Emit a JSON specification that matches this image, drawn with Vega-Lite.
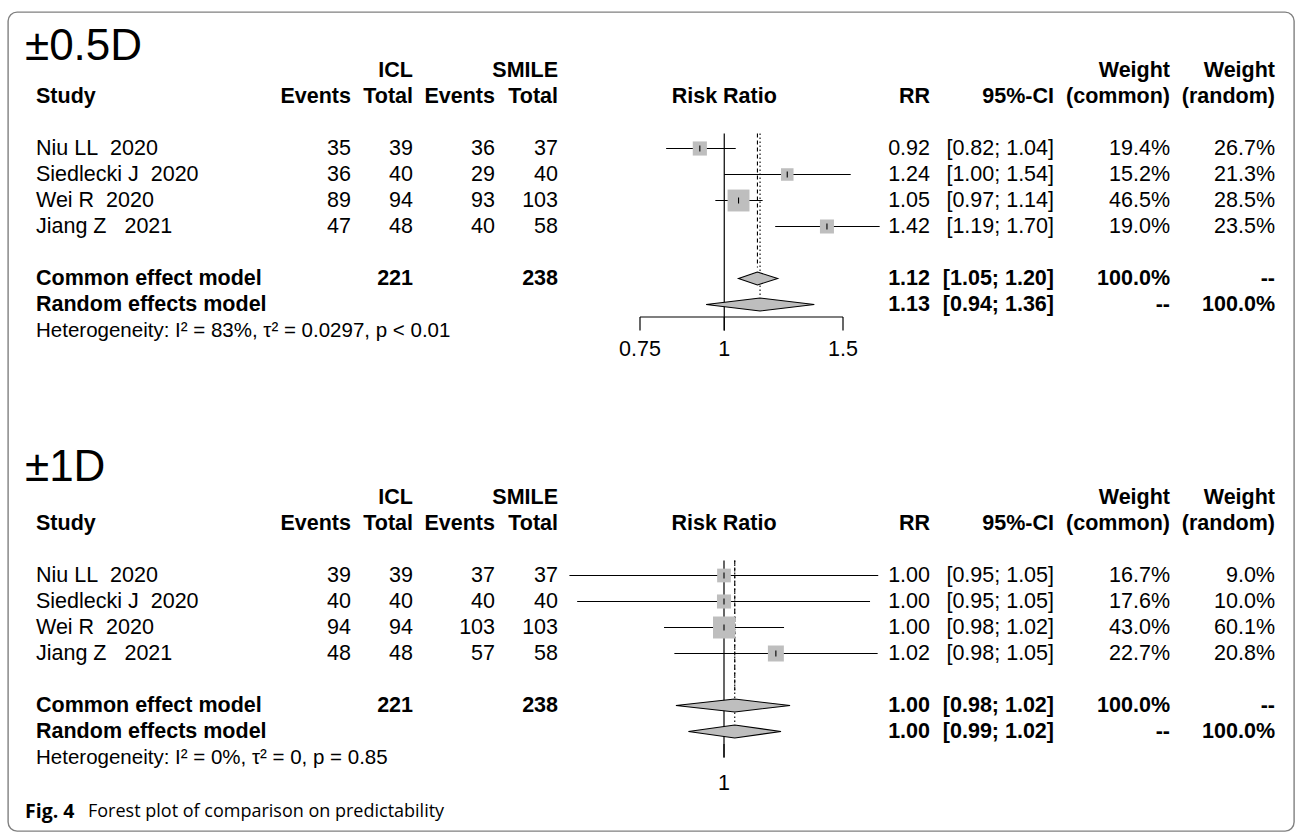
{
  "$schema": "https://vega.github.io/schema/vega-lite/v6.json",
  "width": 1286,
  "height": 819,
  "autosize": {"type": "none"},
  "padding": {"left": 8, "top": 12, "right": 1, "bottom": 1},
  "background": "white",
  "config": {
    "font": "Liberation Sans",
    "view": {"stroke": "#808080", "strokeWidth": 1.4, "cornerRadius": 9},
    "text": {"font": "Liberation Sans", "fontSize": 21.5, "color": "#000000"},
    "rule": {"color": "#000000"},
    "axis": {"title": null, "grid": false}
  },
  "datasets": {
    "t1": [
      {"row": "hdr1", "kind": "head", "study": "", "e1": "", "n1": "ICL", "e2": "", "n2": "SMILE", "rr": "", "ci": "", "wc": "Weight", "wr": "Weight"},
      {"row": "hdr2", "kind": "head", "study": "Study", "e1": "Events", "n1": "Total", "e2": "Events", "n2": "Total", "rr": "RR", "ci": "95%-CI", "wc": "(common)", "wr": "(random)", "fp": "Risk Ratio"},
      {"row": "s1", "kind": "study", "study": "Niu LL\u00a0 2020", "e1": 35, "n1": 39, "e2": 36, "n2": 37, "est": 0.92, "lo": 0.82, "hi": 1.04, "rr": "0.92", "ci": "[0.82; 1.04]", "w": 19.4, "wc": "19.4%", "wr": "26.7%"},
      {"row": "s2", "kind": "study", "study": "Siedlecki J\u00a0 2020", "e1": 36, "n1": 40, "e2": 29, "n2": 40, "est": 1.24, "lo": 1.0, "hi": 1.54, "rr": "1.24", "ci": "[1.00; 1.54]", "w": 15.2, "wc": "15.2%", "wr": "21.3%"},
      {"row": "s3", "kind": "study", "study": "Wei R\u00a0 2020", "e1": 89, "n1": 94, "e2": 93, "n2": 103, "est": 1.05, "lo": 0.97, "hi": 1.14, "rr": "1.05", "ci": "[0.97; 1.14]", "w": 46.5, "wc": "46.5%", "wr": "28.5%"},
      {"row": "s4", "kind": "study", "study": "Jiang Z\u00a0\u00a0 2021", "e1": 47, "n1": 48, "e2": 40, "n2": 58, "est": 1.42, "lo": 1.19, "hi": 1.7, "rr": "1.42", "ci": "[1.19; 1.70]", "w": 19.0, "wc": "19.0%", "wr": "23.5%"},
      {"row": "common", "kind": "model", "study": "Common effect model", "e1": "", "n1": 221, "e2": "", "n2": 238, "est": 1.12, "lo": 1.05, "hi": 1.2, "rr": "1.12", "ci": "[1.05; 1.20]", "wc": "100.0%", "wr": "--"},
      {"row": "random", "kind": "model", "study": "Random effects model", "e1": "", "n1": "", "e2": "", "n2": "", "est": 1.13, "lo": 0.94, "hi": 1.36, "rr": "1.13", "ci": "[0.94; 1.36]", "wc": "--", "wr": "100.0%"}
    ],
    "t2": [
      {"row": "hdr1", "kind": "head", "study": "", "e1": "", "n1": "ICL", "e2": "", "n2": "SMILE", "rr": "", "ci": "", "wc": "Weight", "wr": "Weight"},
      {"row": "hdr2", "kind": "head", "study": "Study", "e1": "Events", "n1": "Total", "e2": "Events", "n2": "Total", "rr": "RR", "ci": "95%-CI", "wc": "(common)", "wr": "(random)", "fp": "Risk Ratio"},
      {"row": "s1", "kind": "study", "study": "Niu LL\u00a0 2020", "e1": 39, "n1": 39, "e2": 37, "n2": 37, "est": 1.0, "lo": 0.951, "hi": 1.0514, "rr": "1.00", "ci": "[0.95; 1.05]", "w": 16.7, "wc": "16.7%", "wr": "9.0%"},
      {"row": "s2", "kind": "study", "study": "Siedlecki J\u00a0 2020", "e1": 40, "n1": 40, "e2": 40, "n2": 40, "est": 1.0, "lo": 0.9534, "hi": 1.0486, "rr": "1.00", "ci": "[0.95; 1.05]", "w": 17.6, "wc": "17.6%", "wr": "10.0%"},
      {"row": "s3", "kind": "study", "study": "Wei R\u00a0 2020", "e1": 94, "n1": 94, "e2": 103, "n2": 103, "est": 1.0, "lo": 0.9807, "hi": 1.0197, "rr": "1.00", "ci": "[0.98; 1.02]", "w": 43.0, "wc": "43.0%", "wr": "60.1%"},
      {"row": "s4", "kind": "study", "study": "Jiang Z\u00a0\u00a0 2021", "e1": 48, "n1": 48, "e2": 57, "n2": 58, "est": 1.017, "lo": 0.984, "hi": 1.0512, "rr": "1.02", "ci": "[0.98; 1.05]", "w": 22.7, "wc": "22.7%", "wr": "20.8%"},
      {"row": "common", "kind": "model", "study": "Common effect model", "e1": "", "n1": 221, "e2": "", "n2": 238, "est": 1.0035, "lo": 0.9845, "hi": 1.0217, "rr": "1.00", "ci": "[0.98; 1.02]", "wc": "100.0%", "wr": "--"},
      {"row": "random", "kind": "model", "study": "Random effects model", "e1": "", "n1": "", "e2": "", "n2": "", "est": 1.0035, "lo": 0.9885, "hi": 1.0187, "rr": "1.00", "ci": "[0.99; 1.02]", "wc": "--", "wr": "100.0%"}
    ],
    "d1": [
      {"row": "common", "vert": "top", "left": 1.12, "right": 1.12},
      {"row": "common", "vert": "mid", "left": 1.05, "right": 1.2},
      {"row": "common", "vert": "bot", "left": 1.12, "right": 1.12},
      {"row": "random", "vert": "top", "left": 1.13, "right": 1.13},
      {"row": "random", "vert": "mid", "left": 0.94, "right": 1.36},
      {"row": "random", "vert": "bot", "left": 1.13, "right": 1.13}
    ],
    "d2": [
      {"row": "common", "vert": "top", "left": 1.0035, "right": 1.0035},
      {"row": "common", "vert": "mid", "left": 0.9845, "right": 1.0217},
      {"row": "common", "vert": "bot", "left": 1.0035, "right": 1.0035},
      {"row": "random", "vert": "top", "left": 1.0035, "right": 1.0035},
      {"row": "random", "vert": "mid", "left": 0.9885, "right": 1.0187},
      {"row": "random", "vert": "bot", "left": 1.0035, "right": 1.0035}
    ],
    "a1": [
      {"tick": 0.75, "label": "0.75"},
      {"tick": 1, "label": "1"},
      {"tick": 1.5, "label": "1.5"}
    ],
    "a2": [
      {"tick": 1, "label": "1"}
    ],
    "x1": [
      {"row": "title", "kind": "title", "text": "±0.5D"},
      {"row": "het", "kind": "het", "text": "Heterogeneity: I² = 83%, τ² = 0.0297, p < 0.01"}
    ],
    "x2": [
      {"row": "title", "kind": "title", "text": "±1D"},
      {"row": "het", "kind": "het", "text": "Heterogeneity: I² = 0%, τ² = 0, p = 0.85"},
      {"row": "caption", "kind": "caption", "fig": "Fig. 4", "text": "Forest plot of comparison on predictability"}
    ]
  },
  "layer": [
    {
      "data": {"name": "t1"},
      "encoding": {"y": {"field": "row", "type": "nominal", "axis": null, "scale": {"type": "point", "padding": 0, "range": [32.5, 370.5], "domain": ["title", "hdr1", "hdr2", "gap1", "s1", "s2", "s3", "s4", "gap2", "common", "random", "het", "axis", "caption"]}}},
      "layer": [
        {"mark": {"type": "text", "font": "Liberation Sans", "align": "left", "baseline": "middle", "fontSize": 21.5, "fontWeight": {"expr": "datum.kind == 'study' ? 'normal' : 'bold'"}},
         "encoding": {"x": {"datum": 1, "type": "quantitative", "axis": null, "scale": {"type": "linear", "domain": [0, 1, 2, 3, 4, 5, 6, 7, 8, 9], "range": [17, 28, 343, 405, 487, 550, 922, 1046, 1162, 1267], "nice": false, "zero": false}}, "text": {"field": "study", "type": "nominal"}}},
        {"mark": {"type": "text", "font": "Liberation Sans", "align": "right", "baseline": "middle", "fontSize": 21.5, "fontWeight": {"expr": "datum.kind == 'study' ? 'normal' : 'bold'"}},
         "encoding": {"x": {"datum": 2, "type": "quantitative", "axis": null}, "text": {"field": "e1", "type": "nominal"}}},
        {"mark": {"type": "text", "font": "Liberation Sans", "align": "right", "baseline": "middle", "fontSize": 21.5, "fontWeight": {"expr": "datum.kind == 'study' ? 'normal' : 'bold'"}},
         "encoding": {"x": {"datum": 3, "type": "quantitative", "axis": null}, "text": {"field": "n1", "type": "nominal"}}},
        {"mark": {"type": "text", "font": "Liberation Sans", "align": "right", "baseline": "middle", "fontSize": 21.5, "fontWeight": {"expr": "datum.kind == 'study' ? 'normal' : 'bold'"}},
         "encoding": {"x": {"datum": 4, "type": "quantitative", "axis": null}, "text": {"field": "e2", "type": "nominal"}}},
        {"mark": {"type": "text", "font": "Liberation Sans", "align": "right", "baseline": "middle", "fontSize": 21.5, "fontWeight": {"expr": "datum.kind == 'study' ? 'normal' : 'bold'"}},
         "encoding": {"x": {"datum": 5, "type": "quantitative", "axis": null}, "text": {"field": "n2", "type": "nominal"}}},
        {"mark": {"type": "text", "font": "Liberation Sans", "align": "right", "baseline": "middle", "fontSize": 21.5, "fontWeight": {"expr": "datum.kind == 'study' ? 'normal' : 'bold'"}},
         "encoding": {"x": {"datum": 6, "type": "quantitative", "axis": null}, "text": {"field": "rr", "type": "nominal"}}},
        {"mark": {"type": "text", "font": "Liberation Sans", "align": "right", "baseline": "middle", "fontSize": 21.5, "fontWeight": {"expr": "datum.kind == 'study' ? 'normal' : 'bold'"}},
         "encoding": {"x": {"datum": 7, "type": "quantitative", "axis": null}, "text": {"field": "ci", "type": "nominal"}}},
        {"mark": {"type": "text", "font": "Liberation Sans", "align": "right", "baseline": "middle", "fontSize": 21.5, "fontWeight": {"expr": "datum.kind == 'study' ? 'normal' : 'bold'"}},
         "encoding": {"x": {"datum": 8, "type": "quantitative", "axis": null}, "text": {"field": "wc", "type": "nominal"}}},
        {"mark": {"type": "text", "font": "Liberation Sans", "align": "right", "baseline": "middle", "fontSize": 21.5, "fontWeight": {"expr": "datum.kind == 'study' ? 'normal' : 'bold'"}},
         "encoding": {"x": {"datum": 9, "type": "quantitative", "axis": null}, "text": {"field": "wr", "type": "nominal"}}},
        {"data": {"name": "x1"}, "transform": [{"filter": "datum.kind == 'title'"}],
         "mark": {"type": "text", "font": "Liberation Sans", "align": "left", "baseline": "middle", "fontSize": 44, "yOffset": 2},
         "encoding": {"x": {"datum": 0, "type": "quantitative", "axis": null}, "text": {"field": "text", "type": "nominal"}}},
        {"data": {"name": "x1"}, "transform": [{"filter": "datum.kind == 'het'"}],
         "mark": {"type": "text", "font": "Liberation Sans", "align": "left", "baseline": "middle", "fontSize": 20.5},
         "encoding": {"x": {"datum": 1, "type": "quantitative", "axis": null}, "text": {"field": "text", "type": "nominal"}}}
      ]
    },
    {
      "data": {"name": "t1"},
      "encoding": {"y": {"field": "row", "type": "nominal", "axis": null, "scale": {"type": "point", "padding": 0, "range": [32.5, 370.5], "domain": ["title", "hdr1", "hdr2", "gap1", "s1", "s2", "s3", "s4", "gap2", "common", "random", "het", "axis", "caption"]}}},
      "layer": [
        {"transform": [{"filter": "datum.kind == 'study'"}],
         "mark": {"type": "rule", "color": "#000000", "strokeWidth": 1.2},
         "encoding": {
           "x": {"field": "lo", "type": "quantitative", "axis": null, "scale": {"type": "log", "domain": [0.75, 1.5], "range": [632, 835], "nice": false}},
           "x2": {"field": "hi"}}},
        {"data": {"values": [{"rr": 1}]},
         "mark": {"type": "rule", "color": "#000000", "strokeWidth": 1.2, "yOffset": 11},
         "encoding": {"x": {"field": "rr", "type": "quantitative", "axis": null}, "y": {"datum": "gap1", "type": "nominal"}, "y2": {"datum": "het"}}},
        {"transform": [{"filter": "datum.row == 'common'"}],
         "mark": {"type": "rule", "color": "#000000", "strokeWidth": 1.1, "strokeDash": [4, 3], "yOffset": 11, "y2Offset": -11},
         "encoding": {"x": {"field": "est", "type": "quantitative", "axis": null}, "y": {"datum": "gap1", "type": "nominal"}, "y2": {"datum": "common"}}},
        {"transform": [{"filter": "datum.row == 'random'"}],
         "mark": {"type": "rule", "color": "#000000", "strokeWidth": 1.1, "strokeDash": [1.5, 2.5], "yOffset": 11, "y2Offset": -7},
         "encoding": {"x": {"field": "est", "type": "quantitative", "axis": null}, "y": {"datum": "gap1", "type": "nominal"}, "y2": {"datum": "random"}}},
        {"transform": [{"filter": "datum.kind == 'study'"}],
         "mark": {"type": "point", "shape": "square", "filled": true, "color": "#bebebe", "opacity": 1, "strokeWidth": 0},
         "encoding": {"x": {"field": "est", "type": "quantitative", "axis": null}, "size": {"field": "w", "type": "quantitative", "legend": null, "scale": {"type": "linear", "domain": [0, 46.5], "range": [0, 480], "zero": true}}}},
        {"transform": [{"filter": "datum.kind == 'study'"}],
         "mark": {"type": "rule", "color": "#000000", "strokeWidth": 1.1, "yOffset": -3, "y2Offset": 3},
         "encoding": {"x": {"field": "est", "type": "quantitative", "axis": null}, "y2": {"field": "row"}}},
        {"data": {"name": "d1"},
         "mark": {"type": "area", "orient": "horizontal", "interpolate": "linear", "fill": "#bebebe", "fillOpacity": 1, "opacity": 1, "stroke": "#000000", "strokeWidth": 1.1},
         "encoding": {"x": {"field": "left", "type": "quantitative", "axis": null, "stack": null}, "x2": {"field": "right"},
                      "yOffset": {"field": "vert", "type": "nominal", "scale": {"type": "point", "domain": ["top", "mid", "bot"], "range": [-6.5, 6.5], "padding": 0}},
                      "detail": {"field": "row"}}},
        {"transform": [{"filter": "datum.row == 'hdr2'"}],
         "mark": {"type": "text", "font": "Liberation Sans", "align": "center", "baseline": "middle", "fontSize": 21.5, "fontWeight": "bold"},
         "encoding": {"x": {"datum": 1, "type": "quantitative", "axis": null}, "text": {"field": "fp", "type": "nominal"}}},
        {"data": {"name": "a1"},
         "transform": [{"aggregate": [{"op": "min", "field": "tick", "as": "t0"}, {"op": "max", "field": "tick", "as": "t1"}]}],
         "mark": {"type": "rule", "color": "#000000", "strokeWidth": 1.2, "yOffset": -13.5},
         "encoding": {"x": {"field": "t0", "type": "quantitative", "axis": null}, "x2": {"field": "t1"}, "y": {"datum": "het", "type": "nominal"}}},
        {"data": {"name": "a1"},
         "mark": {"type": "rule", "color": "#000000", "strokeWidth": 1.2, "yOffset": -13.5},
         "encoding": {"x": {"field": "tick", "type": "quantitative", "axis": null}, "y": {"datum": "het", "type": "nominal"}, "y2": {"datum": "het"}}},
        {"data": {"name": "a1"},
         "mark": {"type": "text", "font": "Liberation Sans", "align": "center", "baseline": "middle", "fontSize": 21.5, "yOffset": -7},
         "encoding": {"x": {"field": "tick", "type": "quantitative", "axis": null}, "y": {"datum": "axis", "type": "nominal"}, "text": {"field": "label", "type": "nominal"}}}
      ]
    },
    {
      "data": {"name": "t2"},
      "encoding": {"y": {"field": "row", "type": "nominal", "axis": null, "scale": {"type": "point", "padding": 0, "range": [459.5, 797.5], "domain": ["title", "hdr1", "hdr2", "gap1", "s1", "s2", "s3", "s4", "gap2", "common", "random", "het", "axis", "caption"]}}},
      "layer": [
        {"mark": {"type": "text", "font": "Liberation Sans", "align": "left", "baseline": "middle", "fontSize": 21.5, "fontWeight": {"expr": "datum.kind == 'study' ? 'normal' : 'bold'"}},
         "encoding": {"x": {"datum": 1, "type": "quantitative", "axis": null, "scale": {"type": "linear", "domain": [0, 1, 2, 3, 4, 5, 6, 7, 8, 9], "range": [17, 28, 343, 405, 487, 550, 922, 1046, 1162, 1267], "nice": false, "zero": false}}, "text": {"field": "study", "type": "nominal"}}},
        {"mark": {"type": "text", "font": "Liberation Sans", "align": "right", "baseline": "middle", "fontSize": 21.5, "fontWeight": {"expr": "datum.kind == 'study' ? 'normal' : 'bold'"}},
         "encoding": {"x": {"datum": 2, "type": "quantitative", "axis": null}, "text": {"field": "e1", "type": "nominal"}}},
        {"mark": {"type": "text", "font": "Liberation Sans", "align": "right", "baseline": "middle", "fontSize": 21.5, "fontWeight": {"expr": "datum.kind == 'study' ? 'normal' : 'bold'"}},
         "encoding": {"x": {"datum": 3, "type": "quantitative", "axis": null}, "text": {"field": "n1", "type": "nominal"}}},
        {"mark": {"type": "text", "font": "Liberation Sans", "align": "right", "baseline": "middle", "fontSize": 21.5, "fontWeight": {"expr": "datum.kind == 'study' ? 'normal' : 'bold'"}},
         "encoding": {"x": {"datum": 4, "type": "quantitative", "axis": null}, "text": {"field": "e2", "type": "nominal"}}},
        {"mark": {"type": "text", "font": "Liberation Sans", "align": "right", "baseline": "middle", "fontSize": 21.5, "fontWeight": {"expr": "datum.kind == 'study' ? 'normal' : 'bold'"}},
         "encoding": {"x": {"datum": 5, "type": "quantitative", "axis": null}, "text": {"field": "n2", "type": "nominal"}}},
        {"mark": {"type": "text", "font": "Liberation Sans", "align": "right", "baseline": "middle", "fontSize": 21.5, "fontWeight": {"expr": "datum.kind == 'study' ? 'normal' : 'bold'"}},
         "encoding": {"x": {"datum": 6, "type": "quantitative", "axis": null}, "text": {"field": "rr", "type": "nominal"}}},
        {"mark": {"type": "text", "font": "Liberation Sans", "align": "right", "baseline": "middle", "fontSize": 21.5, "fontWeight": {"expr": "datum.kind == 'study' ? 'normal' : 'bold'"}},
         "encoding": {"x": {"datum": 7, "type": "quantitative", "axis": null}, "text": {"field": "ci", "type": "nominal"}}},
        {"mark": {"type": "text", "font": "Liberation Sans", "align": "right", "baseline": "middle", "fontSize": 21.5, "fontWeight": {"expr": "datum.kind == 'study' ? 'normal' : 'bold'"}},
         "encoding": {"x": {"datum": 8, "type": "quantitative", "axis": null}, "text": {"field": "wc", "type": "nominal"}}},
        {"mark": {"type": "text", "font": "Liberation Sans", "align": "right", "baseline": "middle", "fontSize": 21.5, "fontWeight": {"expr": "datum.kind == 'study' ? 'normal' : 'bold'"}},
         "encoding": {"x": {"datum": 9, "type": "quantitative", "axis": null}, "text": {"field": "wr", "type": "nominal"}}},
        {"data": {"name": "x2"}, "transform": [{"filter": "datum.kind == 'title'"}],
         "mark": {"type": "text", "font": "Liberation Sans", "align": "left", "baseline": "middle", "fontSize": 44, "yOffset": -4},
         "encoding": {"x": {"datum": 0, "type": "quantitative", "axis": null}, "text": {"field": "text", "type": "nominal"}}},
        {"data": {"name": "x2"}, "transform": [{"filter": "datum.kind == 'het'"}],
         "mark": {"type": "text", "font": "Liberation Sans", "align": "left", "baseline": "middle", "fontSize": 20.5},
         "encoding": {"x": {"datum": 1, "type": "quantitative", "axis": null}, "text": {"field": "text", "type": "nominal"}}},
        {"data": {"name": "x2"}, "transform": [{"filter": "datum.kind == 'caption'"}],
         "mark": {"type": "text", "align": "left", "baseline": "middle", "font": "Open Sans", "fontSize": 19.5, "fontWeight": "bold", "yOffset": 2},
         "encoding": {"x": {"datum": 0, "type": "quantitative", "axis": null}, "text": {"field": "fig", "type": "nominal"}}},
        {"data": {"name": "x2"}, "transform": [{"filter": "datum.kind == 'caption'"}],
         "mark": {"type": "text", "align": "left", "baseline": "middle", "font": "Open Sans", "fontSize": 18, "fontWeight": "normal", "yOffset": 2, "dx": 63},
         "encoding": {"x": {"datum": 0, "type": "quantitative", "axis": null}, "text": {"field": "text", "type": "nominal"}}}
      ]
    },
    {
      "data": {"name": "t2"},
      "encoding": {"y": {"field": "row", "type": "nominal", "axis": null, "scale": {"type": "point", "padding": 0, "range": [459.5, 797.5], "domain": ["title", "hdr1", "hdr2", "gap1", "s1", "s2", "s3", "s4", "gap2", "common", "random", "het", "axis", "caption"]}}},
      "layer": [
        {"transform": [{"filter": "datum.kind == 'study'"}],
         "mark": {"type": "rule", "color": "#000000", "strokeWidth": 1.2},
         "encoding": {
           "x": {"field": "lo", "type": "quantitative", "axis": null, "scale": {"type": "log", "domain": [0.95, 1.05], "range": [558.17, 866.13], "nice": false}},
           "x2": {"field": "hi"}}},
        {"data": {"values": [{"rr": 1}]},
         "mark": {"type": "rule", "color": "#000000", "strokeWidth": 1.2, "yOffset": 11},
         "encoding": {"x": {"field": "rr", "type": "quantitative", "axis": null}, "y": {"datum": "gap1", "type": "nominal"}, "y2": {"datum": "het"}}},
        {"transform": [{"filter": "datum.row == 'common'"}],
         "mark": {"type": "rule", "color": "#000000", "strokeWidth": 1.1, "strokeDash": [4, 3], "yOffset": 11, "y2Offset": -12},
         "encoding": {"x": {"field": "est", "type": "quantitative", "axis": null}, "y": {"datum": "gap1", "type": "nominal"}, "y2": {"datum": "common"}}},
        {"transform": [{"filter": "datum.row == 'random'"}],
         "mark": {"type": "rule", "color": "#000000", "strokeWidth": 1.1, "strokeDash": [1.5, 2.5], "yOffset": 11, "y2Offset": -7},
         "encoding": {"x": {"field": "est", "type": "quantitative", "axis": null}, "y": {"datum": "gap1", "type": "nominal"}, "y2": {"datum": "random"}}},
        {"transform": [{"filter": "datum.kind == 'study'"}],
         "mark": {"type": "point", "shape": "square", "filled": true, "color": "#bebebe", "opacity": 1, "strokeWidth": 0},
         "encoding": {"x": {"field": "est", "type": "quantitative", "axis": null}, "size": {"field": "w", "type": "quantitative", "legend": null, "scale": {"type": "linear", "domain": [0, 43], "range": [0, 484], "zero": true}}}},
        {"transform": [{"filter": "datum.kind == 'study'"}],
         "mark": {"type": "rule", "color": "#000000", "strokeWidth": 1.1, "yOffset": -3, "y2Offset": 3},
         "encoding": {"x": {"field": "est", "type": "quantitative", "axis": null}, "y2": {"field": "row"}}},
        {"data": {"name": "d2"},
         "mark": {"type": "area", "orient": "horizontal", "interpolate": "linear", "fill": "#bebebe", "fillOpacity": 1, "opacity": 1, "stroke": "#000000", "strokeWidth": 1.1},
         "encoding": {"x": {"field": "left", "type": "quantitative", "axis": null, "stack": null}, "x2": {"field": "right"},
                      "yOffset": {"field": "vert", "type": "nominal", "scale": {"type": "point", "domain": ["top", "mid", "bot"], "range": [-6.5, 6.5], "padding": 0}},
                      "detail": {"field": "row"}}},
        {"transform": [{"filter": "datum.row == 'hdr2'"}],
         "mark": {"type": "text", "font": "Liberation Sans", "align": "center", "baseline": "middle", "fontSize": 21.5, "fontWeight": "bold"},
         "encoding": {"x": {"datum": 1, "type": "quantitative", "axis": null}, "text": {"field": "fp", "type": "nominal"}}},
        {"data": {"name": "a2"},
         "mark": {"type": "rule", "color": "#000000", "strokeWidth": 1.2, "yOffset": -13.5},
         "encoding": {"x": {"field": "tick", "type": "quantitative", "axis": null}, "y": {"datum": "het", "type": "nominal"}, "y2": {"datum": "het"}}},
        {"data": {"name": "a2"},
         "mark": {"type": "text", "font": "Liberation Sans", "align": "center", "baseline": "middle", "fontSize": 21.5},
         "encoding": {"x": {"field": "tick", "type": "quantitative", "axis": null}, "y": {"datum": "axis", "type": "nominal"}, "text": {"field": "label", "type": "nominal"}}}
      ]
    }
  ],
  "resolve": {
    "scale": {"x": "independent", "y": "independent", "size": "independent"},
    "axis": {"x": "independent", "y": "independent"}
  }
}
